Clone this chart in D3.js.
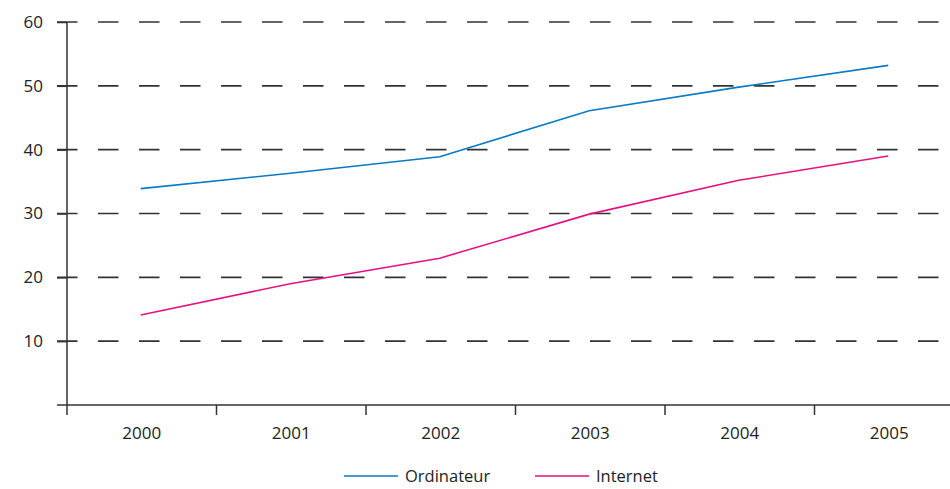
<!DOCTYPE html>
<html><head><meta charset="utf-8">
<script src="https://cdn.jsdelivr.net/npm/d3@7"></script>
<style>body{margin:0;background:#fff}svg{display:block}</style>
</head><body><svg id="c" width="950" height="489"></svg>
<script>
const years = ["2000","2001","2002","2003","2004","2005"];
const ordinateur = [33.9, 36.3, 38.9, 46.1, 49.8, 53.2];
const internet = [14.1, 19.0, 23.0, 29.9, 35.2, 39.0];
const yTicks = [10,20,30,40,50,60];
const seriesNames = ["Ordinateur","Internet"];
const colors = ["#0a7ac4","#e5117f"];

const svg = d3.select("#c");
const font = "'Open Sans', 'Noto Sans', sans-serif";
const x = d3.scaleBand().domain(years).range([67, 964]);
const y = d3.scaleLinear().domain([0,60]).range([405, 22]);

// gridlines
svg.append("g").selectAll("line").data(yTicks).join("line")
  .attr("x1", 57).attr("x2", 950)
  .attr("y1", d=>y(d)).attr("y2", d=>y(d))
  .attr("stroke", "#333").attr("stroke-width", 1.6)
  .attr("stroke-dasharray", "20.5,20.5");

// y axis
const ya = svg.append("g").attr("transform","translate(67,0)")
  .call(d3.axisLeft(y).tickValues(yTicks).tickSize(10).tickSizeOuter(0).tickPadding(14));
ya.select(".domain").attr("stroke","#333").attr("stroke-width",1.5).attr("d","M0,"+y(60)+"V"+y(0));
ya.selectAll(".tick line").attr("stroke","#333").attr("stroke-width",1.5);
ya.selectAll("text").attr("font-family",font).attr("font-size",17).attr("fill","#222");

// x axis
const xa = svg.append("g").attr("transform","translate(0,405)")
  .call(d3.axisBottom(x).tickSize(0).tickPadding(22));
xa.select(".domain").attr("stroke","#333").attr("stroke-width",1.5).attr("d","M57,0H950");
xa.selectAll("text").attr("font-family",font).attr("font-size",17).attr("fill","#222");
const bounds = years.map(d=>x(d));
xa.append("g").selectAll("line").data(bounds).join("line")
  .attr("x1",d=>d).attr("x2",d=>d).attr("y1",0).attr("y2",10)
  .attr("stroke","#333").attr("stroke-width",1.5);

// lines
const line = d3.line().x((d,i)=>x(years[i])+x.bandwidth()/2 - 1).y(d=>y(d));
[ordinateur, internet].forEach((s,i)=>{
  svg.append("path").attr("d", line(s)).attr("fill","none")
    .attr("stroke", colors[i]).attr("stroke-width", 1.6);
});

// legend
const lx = [344, 535];
seriesNames.forEach((n,i)=>{
  const g = svg.append("g").attr("transform",`translate(${lx[i]},476)`);
  g.append("line").attr("x1",0).attr("x2",54).attr("y1",0).attr("y2",0)
    .attr("stroke",colors[i]).attr("stroke-width",1.6);
  g.append("text").attr("x",61).attr("y",0).attr("dy","0.35em").text(n)
    .attr("font-family",font).attr("font-size",16.5).attr("fill","#222");
});
</script></body></html>
